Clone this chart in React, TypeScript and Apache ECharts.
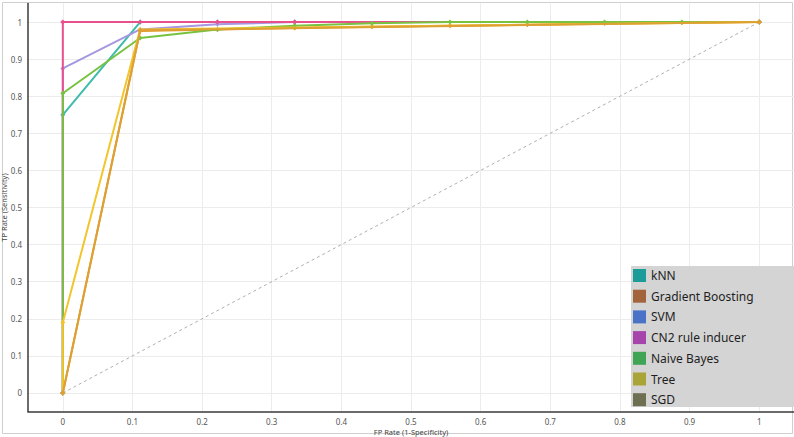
import React, { useEffect, useRef } from "react";
import * as echarts from "echarts";

const xTicks = [0, 0.1, 0.2, 0.3, 0.4, 0.5, 0.6, 0.7, 0.8, 0.9, 1];
const yTicks = [0, 0.1, 0.2, 0.3, 0.4, 0.5, 0.6, 0.7, 0.8, 0.9, 1];

const seriesNames = ["kNN", "Gradient Boosting", "SVM", "CN2 rule inducer", "Naive Bayes", "Tree", "SGD"];
const legendColors = ["#1c9c98", "#a3633c", "#4a72c6", "#a646ac", "#40a455", "#aaa336", "#6f6f52"];
const lineColors = ["#3dbcac", "#e69a22", "#a797e0", "#e8508c", "#78c242", "#f2c52a", "#dca035"];

const knnPts = [[0, 0], [0, 0.75], [0.111, 1], [0.222, 1], [0.333, 1], [1, 1]];
const gbPts = [[0, 0], [0.111, 0.976], [0.222, 0.98], [0.333, 0.984], [0.444, 0.987], [0.556, 0.99], [0.667, 0.993], [0.778, 0.996], [0.889, 0.998], [1, 1]];
const svmPts = [[0, 0], [0, 0.875], [0.111, 0.98], [0.222, 0.994], [0.333, 1], [1, 1]];
const cn2Pts = [[0, 0], [0, 1], [0.111, 1], [0.222, 1], [0.333, 1], [1, 1]];
const nbPts = [[0, 0], [0, 0.808], [0.111, 0.957], [0.222, 0.98], [0.333, 0.99], [0.444, 0.997], [0.556, 1], [0.667, 1], [0.778, 1], [0.889, 1], [1, 1]];
const treePts = [[0, 0], [0, 0.19], [0.111, 0.98], [1, 1]];
const sgdPts = [[0, 0], [0.111, 0.978], [1, 1]];
const diagonalPts = [[0, 0], [1, 1]];

const allPts = [knnPts, gbPts, svmPts, cn2Pts, nbPts, treePts, sgdPts];

export default function App() {
  const ref = useRef<HTMLDivElement>(null);
  useEffect(() => {
    document.body.style.margin = "0";
    const chart = echarts.init(ref.current!, null, { renderer: "svg" });
    const font = "'Noto Sans', 'Open Sans', sans-serif";
    const series: any[] = [
      {
        type: "line",
        name: "diag",
        data: diagonalPts,
        symbol: "none",
        silent: true,
        lineStyle: { color: "#b0b0b0", width: 1, type: [3, 3] },
        z: 1,
      },
    ];
    allPts.forEach((pts, i) => {
      series.push({
        type: "line",
        name: seriesNames[i],
        data: pts,
        symbol: "diamond",
        symbolSize: 5,
        showSymbol: true,
        itemStyle: { color: lineColors[i] },
        lineStyle: { color: lineColors[i], width: 2 },
        z: 2 + i,
      });
    });
    chart.setOption({
      animation: false,
      backgroundColor: "#ffffff",
      grid: { left: 28, right: 0, top: 3.5, bottom: 25.5, containLabel: false, outerBoundsMode: "none" },
      xAxis: {
        type: "value",
        min: -0.05,
        max: 1.05,
        name: "FP Rate (1-Specificity)",
        nameLocation: "middle",
        nameGap: 16,
        nameMoveOverlap: false,
        nameTextStyle: { fontSize: 7.5, color: "#444", fontFamily: font },
        axisLine: { show: true, onZero: false, lineStyle: { color: "#3a3a3a", width: 1.5 } },
        axisTick: { show: false, customValues: xTicks },
        axisLabel: {
          customValues: xTicks,
          fontSize: 8,
          color: "#555",
          fontFamily: font,
          margin: 6,
          formatter: (v: number) => String(v),
        },
        splitLine: { show: true, lineStyle: { color: "#ececec", width: 1 } },
      },
      yAxis: {
        type: "value",
        min: -0.05,
        max: 1.05,
        name: "TP Rate (Sensitivity)",
        nameLocation: "middle",
        nameGap: 20,
        nameMoveOverlap: false,
        nameTextStyle: { fontSize: 7.5, color: "#444", fontFamily: font },
        axisLine: { show: true, onZero: false, lineStyle: { color: "#3a3a3a", width: 1.5 } },
        axisTick: { show: false, customValues: yTicks },
        axisLabel: {
          customValues: yTicks,
          fontSize: 8,
          color: "#555",
          fontFamily: font,
          margin: 6,
          formatter: (v: number) => String(v),
        },
        splitLine: { show: true, lineStyle: { color: "#ececec", width: 1 } },
      },
      legend: {
        orient: "vertical",
        left: 633,
        top: 269,
        padding: 0,
        itemWidth: 13,
        itemHeight: 13,
        itemGap: 7.7,
        icon: "rect",
        textStyle: { fontSize: 12, color: "#1e1e1e", fontFamily: font },
        data: seriesNames.map((n, i) => ({ name: n, itemStyle: { color: legendColors[i] } })),
        z: 20,
      },
      graphic: [
        {
          type: "rect",
          shape: { x: 2.5, y: 2.5, width: 790, height: 431 },
          style: { fill: "none", stroke: "#cfcfcf", lineWidth: 1 },
          silent: true,
          z: 0,
        },
        {
          type: "rect",
          shape: { x: 631, y: 266, width: 163, height: 141 },
          style: { fill: "#d4d4d4" },
          silent: true,
          z: 10,
        },
      ],
      series,
    });
    return () => chart.dispose();
  }, []);
  return <div ref={ref} style={{ width: 794, height: 437 }} />;
}
